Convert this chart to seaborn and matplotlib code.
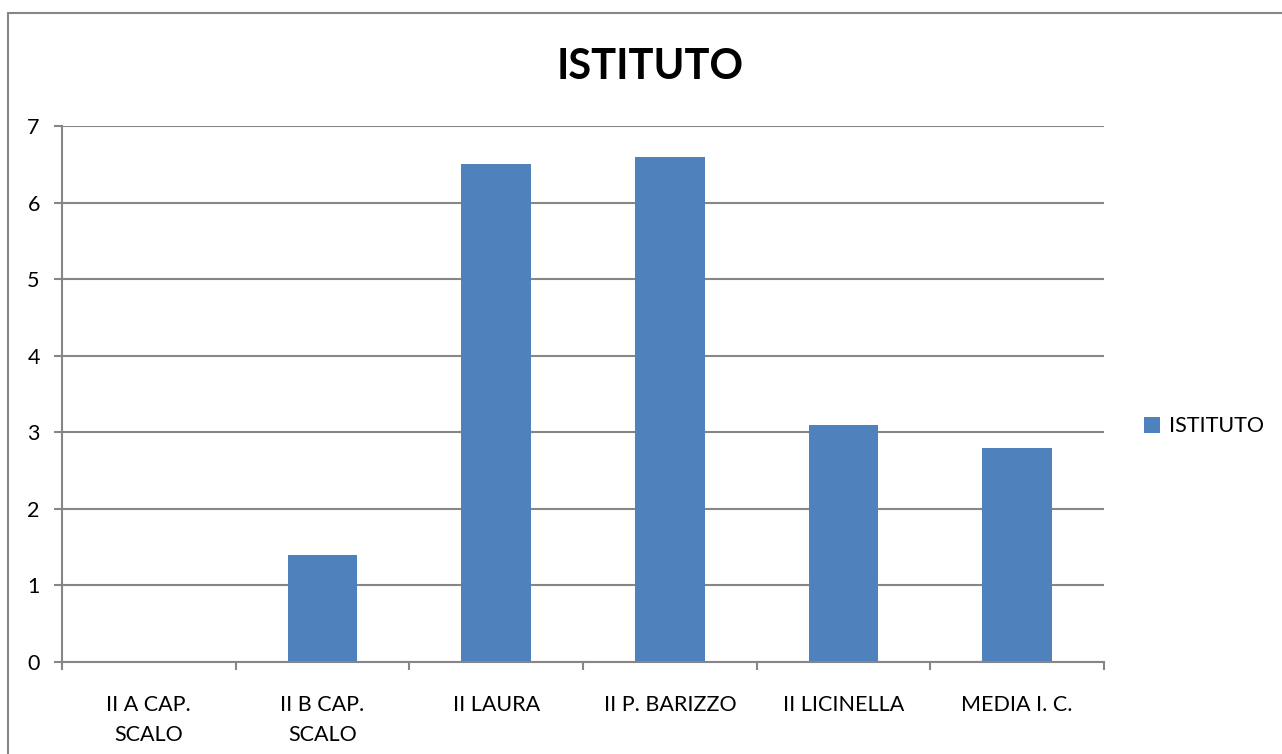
import numpy as np
import pandas as pd
import seaborn as sns
from matplotlib import pyplot as plt
from matplotlib.patches import Rectangle
from matplotlib.ticker import FixedLocator

categories = ["II A CAP.\nSCALO", "II B CAP.\nSCALO", "II LAURA", "II P. BARIZZO",
              "II LICINELLA", "MEDIA I. C."]
values = [0, 1.4, 6.5, 6.6, 3.1, 2.8]
series_name = "ISTITUTO"

df = pd.DataFrame({"classe": categories, "valore": values})

sns.set_style("white")
plt.rcParams['font.family'] = ['Lato', 'DejaVu Sans']
plt.rcParams['text.color'] = 'black'
plt.rcParams['xtick.labelcolor'] = 'black'
plt.rcParams['ytick.labelcolor'] = 'black'

grid_col = "#868686"
bar_col = "#4F81BD"

fig = plt.figure(figsize=(12.82, 7.54), dpi=100)
ax = fig.add_axes([62 / 1282, 1 - 662 / 754, (1104 - 62) / 1282, (662 - 126) / 754])

sns.barplot(data=df, x="classe", y="valore", color=bar_col, saturation=1,
            width=0.4, label=series_name, linewidth=0, ax=ax)

ax.set_ylim(0, 7)
ax.set_xlim(-0.5, len(categories) - 0.5)
ax.set_yticks(range(0, 8))
ax.yaxis.grid(True, color=grid_col, linewidth=1.5)
ax.set_axisbelow(True)
ax.set_xlabel("")
ax.set_ylabel("")

for s in ["top", "right"]:
    ax.spines[s].set_visible(False)
for s in ["left", "bottom"]:
    ax.spines[s].set_color(grid_col)
    ax.spines[s].set_linewidth(1.5)

ax.tick_params(axis="y", length=6, width=1.5, color=grid_col, labelsize=15.5, pad=10,
               left=True)
ax.tick_params(axis="x", which="major", length=0, labelsize=15.5, pad=24)
ax.xaxis.set_minor_locator(FixedLocator(np.arange(-0.5, len(categories), 1.0)))
ax.tick_params(axis="x", which="minor", length=6, width=1.5, color=grid_col, bottom=True)
for lab in ax.get_xticklabels():
    lab.set_linespacing(1.6)

fig.text(650 / 1282, 1 - 67 / 754, series_name, ha="center", va="center",
         fontsize=30, fontweight="bold")

ax.legend(loc="center left", bbox_to_anchor=(1.02, 0.44), frameon=False,
          fontsize=15.5, handlelength=0.75, handleheight=0.75, handletextpad=0.4)

fig.patches.append(Rectangle((8 / 1282, -0.05), 1.2, 1 - 13 / 754 + 0.05,
                             transform=fig.transFigure, fill=False,
                             edgecolor=grid_col, linewidth=1.5))

fig.savefig("out.png", dpi=100)
